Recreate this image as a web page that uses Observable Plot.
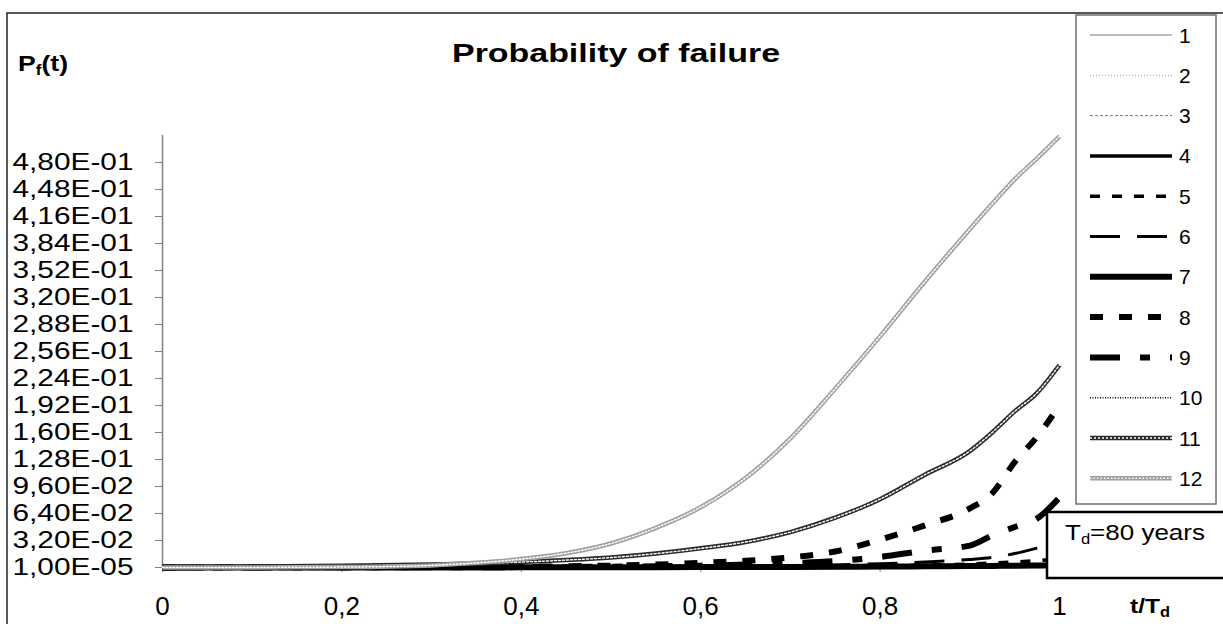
<!DOCTYPE html>
<html><head><meta charset="utf-8">
<script src="https://cdn.jsdelivr.net/npm/d3@7"></script>
<script src="https://cdn.jsdelivr.net/npm/@observablehq/plot@0.6"></script>
<style>
html,body{margin:0;padding:0;background:#fff;}
#chart{position:relative;width:1223px;height:624px;overflow:hidden;}
svg{font-family:"Liberation Sans",Arial,sans-serif;}
</style></head><body><div id="chart"></div>
<script>
// t / T_d
const tValues = [0, 0.1, 0.2, 0.3, 0.35, 0.4, 0.45, 0.5, 0.55, 0.6, 0.65, 0.7, 0.75, 0.8, 0.85, 0.9, 0.925, 0.95, 0.975, 1];
// P_f(t) per series
const s1  = [0.00001, 0.00001, 0.00002, 0.00003, 0.00004, 0.00005, 0.00006, 0.00008, 0.0001, 0.00012, 0.00015, 0.0002, 0.00025, 0.0003, 0.00035, 0.0004, 0.00045, 0.0005, 0.00055, 0.0006];
const s2  = [0.00001, 0.00002, 0.00003, 0.00004, 0.00005, 0.00007, 0.00009, 0.00011, 0.00014, 0.00018, 0.00022, 0.00028, 0.00035, 0.00042, 0.0005, 0.0006, 0.00066, 0.00072, 0.00078, 0.00085];
const s3  = [0.00001, 0.00002, 0.00004, 0.00006, 0.00008, 0.0001, 0.00013, 0.00016, 0.0002, 0.00025, 0.0003, 0.00037, 0.00045, 0.00055, 0.00066, 0.0008, 0.00088, 0.00095, 0.00105, 0.0011];
const s4  = [0.00002, 0.00003, 0.00005, 0.00008, 0.0001, 0.00013, 0.00017, 0.00022, 0.00028, 0.00035, 0.00045, 0.00058, 0.00072, 0.0009, 0.0011, 0.0013, 0.00145, 0.0016, 0.0018, 0.002];
const s5  = [0.00003, 0.00005, 0.0001, 0.0001, 0.0002, 0.0002, 0.0003, 0.0004, 0.0005, 0.0007, 0.0009, 0.0012, 0.0016, 0.0022, 0.003, 0.0042, 0.0052, 0.0065, 0.0082, 0.01];
const s6  = [0.00005, 0.0001, 0.0001, 0.0002, 0.0002, 0.0003, 0.0004, 0.0005, 0.0007, 0.001, 0.0014, 0.002, 0.003, 0.0045, 0.0065, 0.0095, 0.012, 0.0165, 0.023, 0.03];
const s7  = [0.00002, 0.00004, 0.00007, 0.0001, 0.00013, 0.00017, 0.00022, 0.00028, 0.00036, 0.00046, 0.00058, 0.00072, 0.0009, 0.0011, 0.0014, 0.0017, 0.0019, 0.0021, 0.0024, 0.0027];
const s8  = [0.0001, 0.0002, 0.0003, 0.0005, 0.0007, 0.001, 0.0015, 0.0022, 0.0035, 0.0055, 0.008, 0.012, 0.019, 0.033, 0.05, 0.07, 0.088, 0.125, 0.155, 0.1925];
const s9  = [0.0001, 0.0001, 0.0002, 0.0003, 0.0004, 0.0005, 0.0007, 0.001, 0.0015, 0.0022, 0.0035, 0.0052, 0.0075, 0.0125, 0.02, 0.026, 0.038, 0.048, 0.058, 0.083];
const s10 = [0.00001, 0.00002, 0.00003, 0.00005, 0.00007, 0.00009, 0.00012, 0.00015, 0.0002, 0.00026, 0.00033, 0.00042, 0.00053, 0.00066, 0.0008, 0.001, 0.0011, 0.0012, 0.0013, 0.0015];
const s11 = [0.0008, 0.0012, 0.002, 0.0035, 0.0048, 0.0065, 0.0088, 0.0118, 0.0165, 0.0227, 0.0302, 0.042, 0.059, 0.081, 0.11, 0.138, 0.16, 0.185, 0.207, 0.24];
const s12 = [0.00001, 0.0001, 0.0005, 0.0025, 0.0055, 0.01, 0.017, 0.0285, 0.047, 0.0715, 0.106, 0.153, 0.212, 0.274, 0.339, 0.401, 0.431, 0.46, 0.485, 0.511];
const seriesNames = ["1", "2", "3", "4", "5", "6", "7", "8", "9", "10", "11", "12"];
const yTickValues = [0.00001, 0.032, 0.064, 0.096, 0.128, 0.16, 0.192, 0.224, 0.256, 0.288, 0.32, 0.352, 0.384, 0.416, 0.448, 0.48];
const yTickLabels = ["1,00E-05", "3,20E-02", "6,40E-02", "9,60E-02", "1,28E-01", "1,60E-01", "1,92E-01", "2,24E-01", "2,56E-01", "2,88E-01", "3,20E-01", "3,52E-01", "3,84E-01", "4,16E-01", "4,48E-01", "4,80E-01"];
const xTickValues = [0, 0.2, 0.4, 0.6, 0.8, 1];
const xTickLabels = ["0", "0,2", "0,4", "0,6", "0,8", "1"];

const allSeries = [s1, s2, s3, s4, s5, s6, s7, s8, s9, s10, s11, s12];
// line styles (not data)
const styles = [
  {stroke: "#7a7a7a", strokeWidth: 1},
  {stroke: "#999", strokeWidth: 1, strokeDasharray: "1,2"},
  {stroke: "#7a7a7a", strokeWidth: 1, strokeDasharray: "3,2"},
  {stroke: "#000", strokeWidth: 3.5},
  {stroke: "#000", strokeWidth: 3.5, strokeDasharray: "10,12"},
  {stroke: "#000", strokeWidth: 3, strokeDasharray: "30,17"},
  {stroke: "#000", strokeWidth: 6},
  {stroke: "#000", strokeWidth: 6, strokeDasharray: "13,16"},
  {stroke: "#000", strokeWidth: 6, strokeDasharray: "30,20,10,20"},
  {stroke: "#000", strokeWidth: 1.5, strokeDasharray: "1,1.5"},
  {stroke: "#2a2a2a", strokeWidth: 4.5, overlay: {stroke: "#fff", strokeWidth: 1.4, strokeDasharray: "2,2"}},
  {stroke: "#a0a0a0", strokeWidth: 4.5, overlay: {stroke: "#fff", strokeWidth: 1.5, strokeDasharray: "1.5,2"}}
];

const rows = allSeries.map(s => tValues.map((t, i) => ({t, v: s[i]})));

const marks = [
  Plot.ruleY([0.00001], {stroke: "#808080", strokeWidth: 1.5}),
  Plot.ruleX([0], {stroke: "#808080", strokeWidth: 1.5}),
  Plot.axisY({ticks: yTickValues, tickFormat: (d, i) => yTickLabels[i], tickSize: 7, tickPadding: 22, fontSize: 23, color: "#000", label: null}),
  Plot.axisX({ticks: xTickValues, tickFormat: (d, i) => xTickLabels[i], tickSize: 5, tickPadding: 24, fontSize: 26, color: "#000", label: null})
];
rows.forEach((r, k) => {
  const st = styles[k];
  marks.push(Plot.line(r, {x: "t", y: "v", curve: "monotone-x", stroke: st.stroke, strokeWidth: st.strokeWidth, strokeDasharray: st.strokeDasharray, strokeLinejoin: "round", strokeLinecap: "butt"}));
  if (st.overlay) {
    marks.push(Plot.line(r, {x: "t", y: "v", curve: "monotone-x", stroke: st.overlay.stroke, strokeWidth: st.overlay.strokeWidth, strokeDasharray: st.overlay.strokeDasharray, strokeLinejoin: "round"}));
  }
});

const chart = Plot.plot({
  width: 1223, height: 624,
  marginLeft: 162, marginRight: 164, marginTop: 135, marginBottom: 57,
  x: {domain: [0, 1]},
  y: {domain: [0.00001, 0.51201]},
  style: {fontFamily: "Liberation Sans, Arial, sans-serif", background: "#fff", color: "#000"},
  marks
});
document.getElementById("chart").appendChild(chart);

const svg = d3.select(chart);
svg.selectAll('g[aria-label="y-axis tick"] path, g[aria-label="x-axis tick"] path').attr("stroke", "#808080");
svg.selectAll('g[aria-label="y-axis tick label"] text').attr("textLength", 121).attr("lengthAdjust", "spacingAndGlyphs");

// outer frame
svg.append("rect").attr("x", 7).attr("y", 13).attr("width", 1400).attr("height", 800)
  .attr("fill", "none").attr("stroke", "#222").attr("stroke-width", 1.5);

// title
svg.append("text").attr("x", 616).attr("y", 62).attr("text-anchor", "middle")
  .attr("font-size", 25).attr("font-weight", "bold").attr("textLength", 328).attr("lengthAdjust", "spacingAndGlyphs")
  .text("Probability of failure");

// y label
const pf = svg.append("text").attr("x", 18).attr("y", 71).attr("text-anchor", "start").attr("font-size", 22).attr("font-weight", "bold")
  .attr("textLength", 50).attr("lengthAdjust", "spacingAndGlyphs");
pf.append("tspan").text("P");
pf.append("tspan").attr("font-size", 14).attr("dy", 4).text("f");
pf.append("tspan").attr("dy", -4).text("(t)");

// x label
const xl = svg.append("text").attr("x", 1130).attr("y", 613).attr("text-anchor", "start").attr("font-size", 21).attr("font-weight", "bold")
  .attr("textLength", 40).attr("lengthAdjust", "spacingAndGlyphs");
xl.append("tspan").text("t/T");
xl.append("tspan").attr("font-size", 14).attr("dy", 4).text("d");

// legend
const lg = svg.append("g");
lg.append("rect").attr("x", 1076).attr("y", 15).attr("width", 140).attr("height", 489)
  .attr("fill", "#fff").attr("stroke", "#6e6e6e").attr("stroke-width", 1.5);
seriesNames.forEach((name, i) => {
  const yy = 35 + 40.3 * i;
  const st = styles[i];
  lg.append("line").attr("x1", 1090).attr("x2", 1172).attr("y1", yy).attr("y2", yy)
    .attr("stroke", st.stroke).attr("stroke-width", st.strokeWidth).attr("stroke-dasharray", st.strokeDasharray || null);
  if (st.overlay) {
    lg.append("line").attr("x1", 1090).attr("x2", 1172).attr("y1", yy).attr("y2", yy)
      .attr("stroke", st.overlay.stroke).attr("stroke-width", st.overlay.strokeWidth).attr("stroke-dasharray", st.overlay.strokeDasharray);
  }
  lg.append("text").attr("x", 1179).attr("y", yy + 7.5).attr("text-anchor", "start").attr("font-size", 21).text(name);
});

// T_d box
const tb = svg.append("g");
tb.append("rect").attr("x", 1047).attr("y", 512).attr("width", 200).attr("height", 66)
  .attr("fill", "#fff").attr("stroke", "#000").attr("stroke-width", 2.5);
const td = tb.append("text").attr("x", 1065).attr("y", 540).attr("text-anchor", "start").attr("font-size", 22)
  .attr("textLength", 140).attr("lengthAdjust", "spacingAndGlyphs");
td.append("tspan").text("T");
td.append("tspan").attr("font-size", 14).attr("dy", 4).text("d");
td.append("tspan").attr("dy", -4).text("=80 years");
</script>
</body></html>
